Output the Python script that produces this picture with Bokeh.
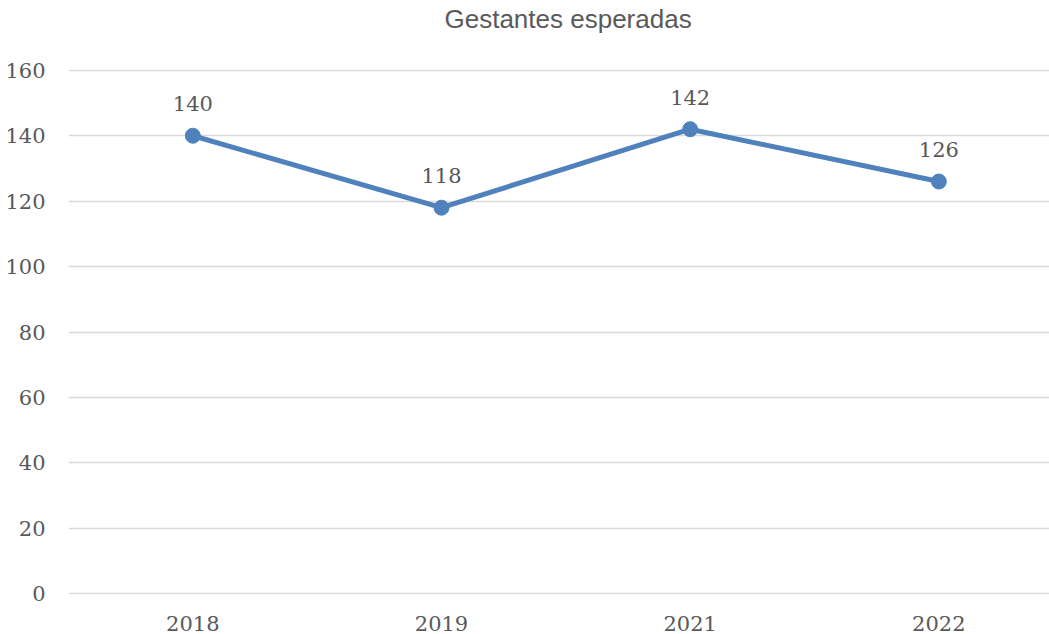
from bokeh.plotting import figure
from bokeh.models import Range1d, FixedTicker, ColumnDataSource, Title
from bokeh.core.properties import value
from bokeh.embed import file_html
from bokeh.resources import INLINE

title_text = "Gestantes esperadas"
years = ["2018", "2019", "2021", "2022"]
values = [140, 118, 142, 126]
y_ticks = [0, 20, 40, 60, 80, 100, 120, 140, 160]

xs = list(range(len(years)))
src = ColumnDataSource(dict(x=xs, y=values, lab=[str(v) for v in values]))

p = figure(width=1049, height=634, output_backend="svg", toolbar_location=None,
           x_range=Range1d(-0.5, 3.445), y_range=Range1d(-0.25, 160.25),
           min_border_left=68, min_border_right=0, min_border_top=69, min_border_bottom=40)
p.outline_line_color = None
p.background_fill_color = "white"
p.border_fill_color = "white"

gray = "#595959"
serif = "DejaVu Serif"

# spacer between frame and title
p.add_layout(Title(text=" ", text_font_size="2px", standoff=26), "above")

p.title.text = title_text
p.title.align = "left"
p.title.vertical_align = "top"
p.title.offset = 376
p.title.standoff = 7
p.title.text_font = "Liberation Sans"
p.title.text_font_size = "26px"
p.title.text_font_style = "normal"
p.title.text_color = gray

p.yaxis.ticker = FixedTicker(ticks=y_ticks)
p.yaxis.axis_line_color = None
p.yaxis.major_tick_line_color = None
p.yaxis.minor_tick_line_color = None
p.yaxis.major_tick_out = 0
p.yaxis.major_tick_in = 0
p.yaxis.major_label_standoff = 23
p.yaxis.major_label_text_font = serif
p.yaxis.major_label_text_font_size = "21px"
p.yaxis.major_label_text_color = gray

p.xaxis.ticker = FixedTicker(ticks=xs)
p.xaxis.major_label_overrides = {i: y for i, y in zip(xs, years)}
p.xaxis.axis_line_color = None
p.xaxis.major_tick_line_color = None
p.xaxis.minor_tick_line_color = None
p.xaxis.major_tick_out = 0
p.xaxis.major_tick_in = 0
p.xaxis.major_label_standoff = 21
p.xaxis.major_label_text_font = serif
p.xaxis.major_label_text_font_size = "21px"
p.xaxis.major_label_text_color = gray

p.xgrid.grid_line_color = None
p.ygrid.grid_line_color = "#d9d9d9"
p.ygrid.grid_line_width = 1.5

blue = "#4f81bd"
p.line("x", "y", source=src, line_color=blue, line_width=5)
p.scatter("x", "y", source=src, size=15, fill_color=blue, line_color=blue)
p.text("x", "y", text="lab", source=src, text_align="center", text_baseline="alphabetic",
       y_offset=-32, text_font=value(serif), text_font_size="21px", text_color=gray)

open("out.html", "w").write(file_html(p, INLINE))
